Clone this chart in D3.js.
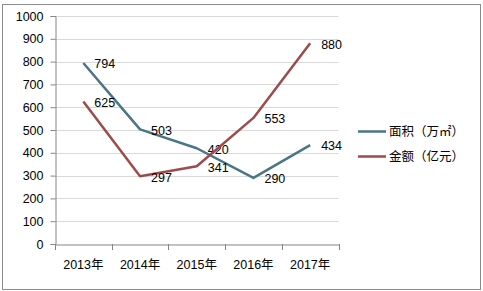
<!DOCTYPE html>
<html>
<head>
<meta charset="utf-8">
<script src="https://cdn.jsdelivr.net/npm/d3@7"></script>
<style>
  body { margin: 0; background: #fff; }
  svg { display: block; font-family: "Liberation Sans", "Noto Sans CJK SC", sans-serif; }
</style>
</head>
<body>
<div id="chart"></div>
<script>
var years = ["2013年", "2014年", "2015年", "2016年", "2017年"];
var areaValues = [794, 503, 420, 290, 434];
var amountValues = [625, 297, 341, 553, 880];
var yTicks = [0, 100, 200, 300, 400, 500, 600, 700, 800, 900, 1000];
var seriesNames = ["面积（万㎡）", "金额（亿元）"];

var W = 483, H = 291;
var COLORS = ["#4a7587", "#9e4a4a"];

var svg = d3.select("#chart").append("svg")
  .attr("width", W)
  .attr("height", H);

svg.append("rect")
  .attr("x", 2.5).attr("y", 4.5)
  .attr("width", 478).attr("height", 285)
  .attr("fill", "#fff")
  .attr("stroke", "#8c8c8c");

var x = d3.scaleBand().domain(years).range([55, 338.5]);
var y = d3.scaleLinear().domain([0, 1000]).range([244, 16]);

// gridlines
svg.append("g").selectAll("line")
  .data(yTicks.slice(1))
  .enter().append("line")
  .attr("x1", 55).attr("x2", 338.5)
  .attr("y1", function(d){ return Math.round(y(d)) + 0.5; })
  .attr("y2", function(d){ return Math.round(y(d)) + 0.5; })
  .attr("stroke", "#d9d9d9");

// y axis
var yAxis = svg.append("g")
  .attr("transform", "translate(55.5,0)")
  .call(d3.axisLeft(y).tickValues(yTicks).tickFormat(d3.format("d")).tickSize(5).tickPadding(7));
yAxis.select(".domain").attr("stroke", "#868686");
yAxis.selectAll(".tick line").attr("stroke", "#868686");
yAxis.selectAll("text").attr("font-size", 12.5).attr("fill", "#000")
  .attr("font-family", "Liberation Sans, sans-serif");

// x axis
var xAxis = svg.append("g")
  .attr("transform", "translate(0,244.5)")
  .call(d3.axisBottom(x).tickSize(0).tickPadding(16));
xAxis.select(".domain").attr("stroke", "#868686");
xAxis.selectAll("text").attr("font-size", 12.5).attr("fill", "#000")
  .attr("font-family", "Liberation Sans, Noto Sans CJK SC, sans-serif");
svg.append("g").selectAll("line")
  .data(d3.range(years.length + 1))
  .enter().append("line")
  .attr("x1", function(i){ return Math.round(55 + i * x.step()) + 0.5; })
  .attr("x2", function(i){ return Math.round(55 + i * x.step()) + 0.5; })
  .attr("y1", 244).attr("y2", 250)
  .attr("stroke", "#868686");

var line = d3.line()
  .x(function(d, i){ return x(years[i]) + x.bandwidth() / 2; })
  .y(function(d){ return y(d); });

[areaValues, amountValues].forEach(function(vals, s){
  svg.append("path")
    .datum(vals)
    .attr("d", line)
    .attr("fill", "none")
    .attr("stroke", COLORS[s])
    .attr("stroke-width", 2.5)
    .attr("stroke-linejoin", "round");
  svg.append("g").selectAll("text")
    .data(vals)
    .enter().append("text")
    .attr("x", function(d, i){ return x(years[i]) + x.bandwidth() / 2 + 11; })
    .attr("y", function(d){ return y(d) + 1; })
    .attr("dy", "0.35em")
    .attr("font-size", 12.5)
    .attr("fill", "#000")
    .text(function(d){ return d; });
});

// legend
var legend = svg.append("g").selectAll("g")
  .data(seriesNames)
  .enter().append("g")
  .attr("transform", function(d, i){ return "translate(358," + (131.5 + i * 25) + ")"; });
legend.append("line")
  .attr("x1", 0).attr("x2", 28)
  .attr("stroke", function(d, i){ return COLORS[i]; })
  .attr("stroke-width", 2.5);
legend.append("text")
  .attr("x", 31)
  .attr("dy", "0.35em")
  .attr("font-size", 12.5)
  .attr("font-family", "Noto Sans CJK SC, sans-serif")
  .attr("fill", "#000")
  .text(function(d){ return d; });
</script>
</body>
</html>
